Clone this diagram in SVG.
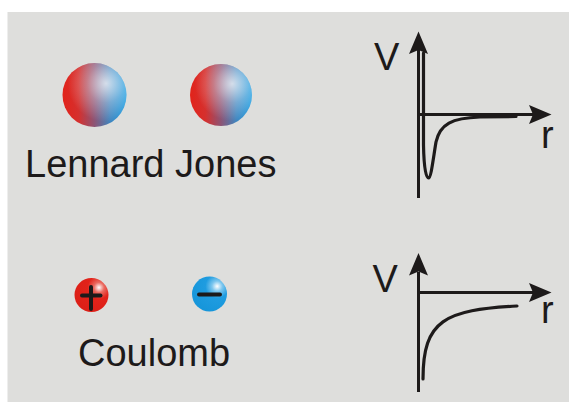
<svg xmlns="http://www.w3.org/2000/svg" width="569" height="402" viewBox="0 0 569 402">
  <defs>
    <!-- neutral atom: red on the left blending to blue on the right -->
    <linearGradient id="atomBase" x1="0" y1="0" x2="1" y2="0">
      <stop offset="0" stop-color="#e2231a"/>
      <stop offset="0.25" stop-color="#d5302e"/>
      <stop offset="0.5" stop-color="#8c5475"/>
      <stop offset="0.75" stop-color="#3f86c0"/>
      <stop offset="1" stop-color="#1a9be0"/>
    </linearGradient>
    <radialGradient id="atomShine" cx="0.68" cy="0.32" r="0.6">
      <stop offset="0" stop-color="#ffffff" stop-opacity="0.75"/>
      <stop offset="0.5" stop-color="#ffffff" stop-opacity="0.3"/>
      <stop offset="1" stop-color="#ffffff" stop-opacity="0"/>
    </radialGradient>
    <!-- ions -->
    <radialGradient id="ionRed" cx="0.72" cy="0.28" r="0.75">
      <stop offset="0" stop-color="#ffffff"/>
      <stop offset="0.2" stop-color="#ea6a60"/>
      <stop offset="0.45" stop-color="#e2231a"/>
      <stop offset="1" stop-color="#dc1f17"/>
    </radialGradient>
    <radialGradient id="ionBlue" cx="0.72" cy="0.28" r="0.75">
      <stop offset="0" stop-color="#ffffff"/>
      <stop offset="0.2" stop-color="#7cc6ee"/>
      <stop offset="0.45" stop-color="#1f9ce0"/>
      <stop offset="1" stop-color="#1796da"/>
    </radialGradient>
  </defs>
  <style>
    .label { font-family: "Liberation Sans", Arial, sans-serif; font-size: 38px; fill: #1d1a1a; }
    .axis { stroke: #1d1a1a; stroke-width: 3; fill: none; }
    .curve { stroke: #1d1a1a; stroke-width: 3.2; fill: none; stroke-linecap: round; }
    .head { fill: #1d1a1a; }
    .sign { stroke: #1d1a1a; stroke-width: 4; stroke-linecap: round; }
  </style>

  <rect x="7.5" y="12" width="562" height="390" fill="#dededc"/>

  <!-- Lennard-Jones pair -->
  <g id="atom-left">
    <circle cx="94.5" cy="95" r="32" fill="url(#atomBase)"/>
    <circle cx="94.5" cy="95" r="32" fill="url(#atomShine)"/>
  </g>
  <g id="atom-right">
    <circle cx="221" cy="95" r="31" fill="url(#atomBase)"/>
    <circle cx="221" cy="95" r="31" fill="url(#atomShine)"/>
  </g>
  <text id="lj-label" class="label" x="25" y="177">Lennard Jones</text>

  <!-- Coulomb pair -->
  <g id="ion-plus">
    <circle cx="91.5" cy="295" r="17" fill="url(#ionRed)"/>
    <line class="sign" x1="82" y1="295.5" x2="100.5" y2="295.5"/>
    <line class="sign" x1="91" y1="287" x2="91" y2="309"/>
  </g>
  <g id="ion-minus">
    <circle cx="209.5" cy="294" r="17.5" fill="url(#ionBlue)"/>
    <line class="sign" x1="199" y1="294.5" x2="220" y2="294.5"/>
  </g>
  <text id="coulomb-label" class="label" x="78" y="366">Coulomb</text>

  <!-- Lennard-Jones potential plot -->
  <g id="lj-plot">
    <line class="axis" x1="418.5" y1="50" x2="418.5" y2="198"/>
    <polygon class="head" points="418.5,31.5 428,54 418.5,50 409,54"/>
    <line class="axis" x1="418.5" y1="114.5" x2="533" y2="114.5"/>
    <polygon class="head" points="551.5,114.5 529,124 533,114.5 529,105"/>
    <path class="curve" d="M423.5,53 L423.5,145 C424,172 426.5,178 428.5,178 C431,178 433,160 436,142 C440,124 452,118 480,117 L516,116.5"/>
    <text class="label" x="374" y="70" font-size="37">V</text>
    <text class="label" x="541" y="148">r</text>
  </g>

  <!-- Coulomb potential plot -->
  <g id="coulomb-plot">
    <line class="axis" x1="418.5" y1="272" x2="418.5" y2="392"/>
    <polygon class="head" points="418.5,253 428,275.5 418.5,271.5 409,275.5"/>
    <line class="axis" x1="418.5" y1="292.5" x2="533" y2="292.5"/>
    <polygon class="head" points="551.5,292.5 529,302 533,292.5 529,283"/>
    <path class="curve" d="M423,379 C423,320 445,310 517,306"/>
    <text class="label" x="372.5" y="292" font-size="37">V</text>
    <text class="label" x="541" y="323">r</text>
  </g>
</svg>
